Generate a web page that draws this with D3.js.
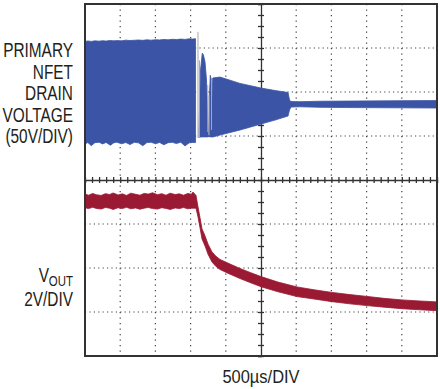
<!DOCTYPE html>
<html>
<head>
<meta charset="utf-8">
<script src="https://cdn.jsdelivr.net/npm/d3@7"></script>
<style>
  body { margin: 0; background: #fff; }
  text { font-family: "Liberation Sans", Arial, sans-serif; fill: #231f20; }
</style>
</head>
<body>
<script>
/********************************************************/
// scope capture: 500us/DIV, 10 x 8 divisions

// time of each sample, microseconds
const drainT = [0, 40, 90, 140, 200, 250, 300, 360, 410, 450, 520, 580, 640, 700, 760, 820, 880, 940, 1000, 1060, 1120, 1180, 1240, 1300, 1360, 1420, 1480, 1530, 1570,
  1575,
  1619, 1641, 1666, 1683, 1705, 1726, 1740, 1754,
  1760,
  1768, 1780, 1794, 1804, 1814, 1918, 2202, 2500, 2699, 2884, 2905, 2926, 3054, 3338, 3764, 4474, 5000];
// drain voltage envelope, volts (null = gap in the trace)
const drainHi = [115.4, 116.0, 115.5, 116.1, 115.8, 116.3, 115.9, 116.6, 116.1, 116.4, 116.2, 116.9, 116.5, 116.8, 117.1, 116.7, 117.3, 116.9, 117.4, 117.2, 117.7, 117.3, 117.9, 117.6, 118.1, 117.8, 118.4, 118.2, 118.6,
  null,
  14.8, 82.9, 102.2, 100.0, 92.0, 71.6, 37.5, 9.1,
  null,
  54.5, 77.0, 71.5, 48.9, 73.9, 75.0, 67.8, 62.5, 59.7, 57.4, 48.9, 47.2, 47.0, 47.5, 47.7, 48.1, 48.3];
const drainLo = [-1.2, 0.6, -3.0, 0.4, 0.9, -1.0, 0.7, -2.5, 0.3, 1.0, -0.8, 0.6, -1.7, 0.8, 0.2, -3.1, 0.5, 0.9, -0.8, 0.7, -2.0, 0.4, 0.8, -0.6, 1.0, -3.3, 0.2, 0.6, 0.5,
  null,
  6.0, 6.8, 7.0, 7.0, 7.0, 7.0, 7.0, 7.0,
  null,
  7.0, 7.0, 7.0, 7.0, 6.8, 9.1, 14.8, 21.6, 26.1, 30.7, 37.5, 40.9, 41.2, 40.6, 40.3, 40.0, 39.8];

// thin grey spikes in the drain trace
const spikeT = [1605, 1626, 1744, 1761, 1797];
const spikeHi = [126.4, 94.0, 66.0, 54.5, 71.6];
const spikeLo = [5.7, 5.7, 12.5, 9.0, 14.8];

// output voltage band, volts
const voutT = [0, 50, 110, 160, 230, 290, 350, 400, 470, 530, 590, 650, 720, 780, 840, 900, 960, 1030, 1090, 1150, 1210, 1280, 1340, 1400, 1460, 1510, 1534,
  1577, 1605, 1634, 1662, 1705, 1747, 1804, 1861, 1918, 2060, 2202, 2344, 2500, 2741, 3011, 3253, 3509, 3764, 4006, 4247, 4503, 4758, 5000];
const voutHi = [5.36, 5.31, 5.39, 5.33, 5.30, 5.38, 5.34, 5.41, 5.32, 5.37, 5.30, 5.40, 5.35, 5.31, 5.39, 5.36, 5.42, 5.33, 5.38, 5.31, 5.40, 5.34, 5.37, 5.31, 5.39, 5.35, 5.45,
  5.30, 4.78, 4.28, 3.78, 3.46, 3.09, 2.73, 2.53, 2.39, 2.18, 1.98, 1.80, 1.61, 1.36, 1.14, 1.01, 0.89, 0.79, 0.71, 0.62, 0.55, 0.50, 0.46];
const voutLo = [4.74, 4.70, 4.76, 4.71, 4.68, 4.75, 4.72, 4.66, 4.74, 4.70, 4.76, 4.69, 4.73, 4.67, 4.72, 4.75, 4.70, 4.68, 4.74, 4.71, 4.66, 4.73, 4.70, 4.75, 4.69, 4.72, 4.72,
  4.72, 4.32, 3.82, 3.32, 3.00, 2.63, 2.27, 2.07, 1.93, 1.72, 1.52, 1.34, 1.15, 0.92, 0.70, 0.59, 0.47, 0.37, 0.29, 0.22, 0.15, 0.10, 0.06];

const drainLabel = ["PRIMARY", "NFET", "DRAIN", "VOLTAGE", "(50V/DIV)"];
const voutLabel = ["V", "OUT", "2V/DIV"];
const timeLabel = "500µs/DIV";

/********************************************************/
const svgWidth = 440;
const svgHeight = 389;

const chartMargin = { top: 4, left: 85 };
const chartWidth = 352;
const chartHeight = 352;

const xDivs = 10;
const yDivs = 8;
const usPerDiv = 500;

// channel offsets (divisions above the centre line) and scales
const drainZeroDiv = 0.84, drainPerDiv = 50;
const voutZeroDiv = -3, voutPerDiv = 2;

const svg = d3
  .select("body")
  .append("svg")
  .attr("width", svgWidth)
  .attr("height", svgHeight);

const chartGroup = svg
  .append("g")
  .attr("transform", `translate(${chartMargin.left}, ${chartMargin.top})`);

/************** scales ************/
let xScale = d3.scaleLinear()
  .domain([0, xDivs * usPerDiv])
  .range([0, chartWidth]);

let divScale = d3.scaleLinear()
  .domain([-yDivs / 2, yDivs / 2])
  .range([chartHeight, 0]);

let drainScale = d3.scaleLinear()
  .domain([(-yDivs / 2 - drainZeroDiv) * drainPerDiv, (yDivs / 2 - drainZeroDiv) * drainPerDiv])
  .range([chartHeight, 0]);

let voutScale = d3.scaleLinear()
  .domain([(-yDivs / 2 - voutZeroDiv) * voutPerDiv, (yDivs / 2 - voutZeroDiv) * voutPerDiv])
  .range([chartHeight, 0]);

/************** graticule ************/
const gridColor = "#444";

chartGroup.selectAll(".vgrid")
  .data(d3.range(1, xDivs).filter((i) => i !== xDivs / 2))
  .enter()
  .append("line")
  .attr("x1", (i) => xScale(i * usPerDiv))
  .attr("x2", (i) => xScale(i * usPerDiv))
  .attr("y1", 0)
  .attr("y2", chartHeight)
  .attr("stroke", gridColor)
  .attr("stroke-width", 1.2)
  .attr("stroke-dasharray", "1.2,4.3");

chartGroup.selectAll(".hgrid")
  .data(d3.range(-yDivs / 2 + 1, yDivs / 2).filter((i) => i !== 0))
  .enter()
  .append("line")
  .attr("x1", 0)
  .attr("x2", chartWidth)
  .attr("y1", (i) => divScale(i))
  .attr("y2", (i) => divScale(i))
  .attr("stroke", gridColor)
  .attr("stroke-width", 1.2)
  .attr("stroke-dasharray", "1.2,3.2");

// centre axes with minor ticks
let xMinor = d3.range(0, xDivs * 5 + 1).map((i) => i * usPerDiv / 5);
let yMinor = d3.range(-yDivs / 2 * 4, yDivs / 2 * 4 + 1).map((i) => i / 4);

let hAxis = chartGroup.append("g")
  .attr("transform", `translate(0, ${divScale(0)})`)
  .call(d3.axisBottom(xScale).tickValues(xMinor).tickSize(3).tickFormat(""));
hAxis.selectAll(".tick line").attr("y1", -3);

let vAxis = chartGroup.append("g")
  .attr("transform", `translate(${xScale(xDivs / 2 * usPerDiv)}, 0)`)
  .call(d3.axisLeft(divScale).tickValues(yMinor).tickSize(3).tickFormat(""));
vAxis.selectAll(".tick line").attr("x1", 3);

chartGroup.selectAll(".domain, .tick line")
  .attr("stroke", "#333")
  .attr("stroke-width", 1.3);

/************** traces ************/
let drainData = drainT.map((t, i) => ({ t: t, hi: drainHi[i], lo: drainLo[i] }));
let voutData = voutT.map((t, i) => ({ t: t, hi: voutHi[i], lo: voutLo[i] }));

let drainArea = d3.area()
  .defined((d) => d.hi !== null)
  .x((d) => xScale(d.t))
  .y0((d) => drainScale(d.lo))
  .y1((d) => drainScale(d.hi));

chartGroup.append("path")
  .attr("d", drainArea(drainData))
  .attr("fill", "#3b54a5")
  .attr("stroke", "#3b54a5")
  .attr("stroke-width", 0.8);

chartGroup.selectAll(".spike")
  .data(spikeT)
  .enter()
  .append("line")
  .attr("x1", (t) => xScale(t))
  .attr("x2", (t) => xScale(t))
  .attr("y1", (t, i) => drainScale(spikeHi[i]))
  .attr("y2", (t, i) => drainScale(spikeLo[i]))
  .attr("stroke", "#a8a8b0")
  .attr("stroke-width", 1);

let voutArea = d3.area()
  .x((d) => xScale(d.t))
  .y0((d) => voutScale(d.lo))
  .y1((d) => voutScale(d.hi));

chartGroup.append("path")
  .attr("d", voutArea(voutData))
  .attr("fill", "#9a1933")
  .attr("stroke", "#9a1933")
  .attr("stroke-width", 0.8);

// frame
chartGroup.append("rect")
  .attr("width", chartWidth)
  .attr("height", chartHeight)
  .attr("fill", "none")
  .attr("stroke", "#333")
  .attr("stroke-width", 2);

/************** labels ************/
const labelSize = 19.5;
const squeeze = 0.79;

function addLabel(s, x, y, size, sx, anchor) {
  svg.append("g")
    .attr("transform", `translate(${x}, ${y}) scale(${sx}, 1)`)
    .append("text")
    .attr("text-anchor", anchor)
    .attr("font-size", size)
    .text(s);
}

drainLabel.forEach((s, i) => addLabel(s, 73, 57 + i * 21.5, labelSize, squeeze, "end"));

addLabel(voutLabel[0], 49, 282, labelSize, squeeze, "end");
addLabel(voutLabel[1], 73, 285.5, 14.5, squeeze, "end");
addLabel(voutLabel[2], 73, 306, labelSize, squeeze, "end");

addLabel(timeLabel, chartMargin.left + chartWidth / 2, 383, 18.7, 0.88, "middle");
</script>
</body>
</html>
